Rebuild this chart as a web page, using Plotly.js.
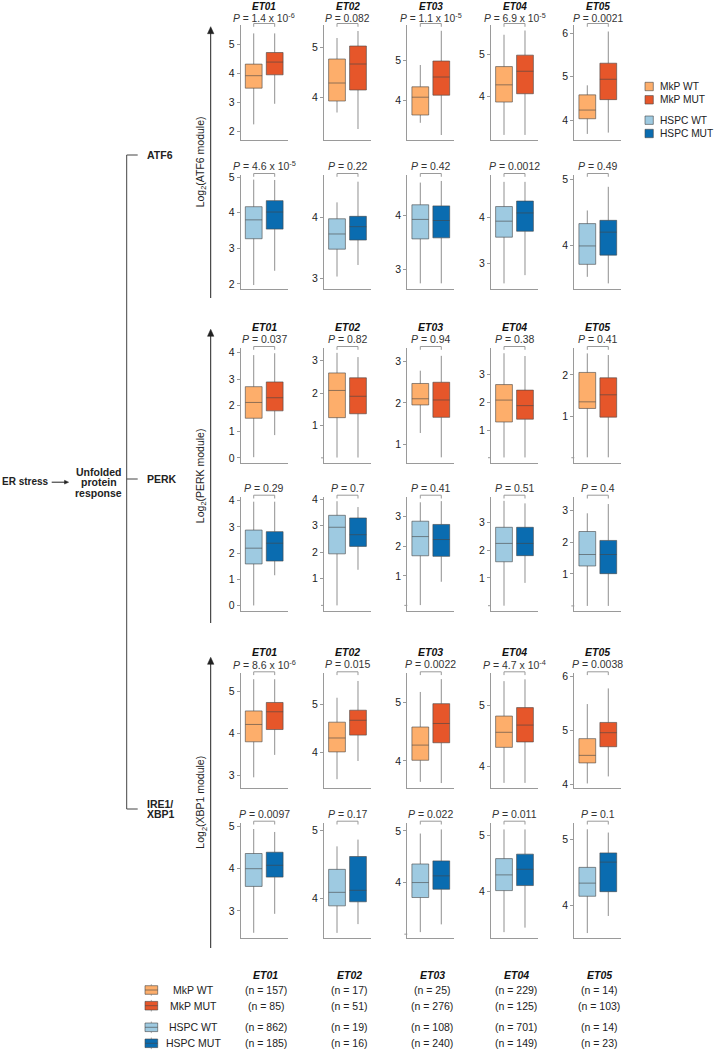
<!DOCTYPE html>
<html><head><meta charset="utf-8">
<script src="https://cdn.plot.ly/plotly-3.0.1.min.js"></script>
<style>html,body{margin:0;padding:0;background:#fff}#chart{width:714px;height:1050px}</style>
</head><body><div id="chart"></div>
<script>
// ---------------- DATA ----------------
const samples = ['ET01', 'ET02', 'ET03', 'ET04', 'ET05'];
const groupLabels = ['MkP WT', 'MkP MUT', 'HSPC WT', 'HSPC MUT'];
const modules = ['ATF6', 'PERK', 'XBP1'];

// box statistics per sample: [lower whisker, Q1, median, Q3, upper whisker]
const ATF6_MkP_WT = [[2.23,3.48,3.91,4.31,5.37],[3.70,3.93,4.29,4.77,5.19],[3.43,3.625,4.07,4.33,4.875],[3.10,3.875,4.28,4.71,5.46],[3.68,4.03,4.23,4.58,4.80]];
const ATF6_MkP_MUT = [[2.94,3.94,4.38,4.71,5.37],[3.37,4.15,4.67,5.03,5.33],[3.125,4.12,4.575,4.975,5.73],[3.10,4.07,4.60,4.98,5.56],[3.71,4.47,4.94,5.31,6.04]];
const ATF6_HSPC_WT = [[1.97,3.27,3.80,4.17,4.93],[3.03,3.48,3.73,3.98,4.25],[2.74,3.56,3.92,4.19,4.60],[2.56,3.57,3.92,4.24,4.78],[3.52,3.71,3.99,4.33,4.53]];
const ATF6_HSPC_MUT = [[2.37,3.54,4.02,4.34,4.92],[3.22,3.63,3.85,4.02,4.59],[2.74,3.58,3.90,4.17,4.63],[2.74,3.70,4.10,4.36,4.78],[3.42,3.85,4.20,4.38,4.89]];
const PERK_MkP_WT = [[0.03,1.51,2.11,2.71,3.91],[0.01,1.24,2.08,2.62,3.24],[1.27,1.95,2.10,2.47,2.78],[0.01,1.29,2.08,2.64,3.77],[0.01,1.19,1.35,2.06,2.52]];
const PERK_MkP_MUT = [[0.87,1.79,2.29,2.89,3.98],[0.01,1.36,1.90,2.47,3.11],[0.68,1.65,2.07,2.50,3.14],[0.01,1.39,1.88,2.44,3.67],[0.01,0.98,1.52,1.93,2.48]];
const PERK_HSPC_WT = [[0.01,1.59,2.19,2.88,3.96],[0.0,1.94,2.94,3.39,3.92],[0.01,1.68,2.33,2.85,3.49],[0.0,1.58,2.24,2.82,3.77],[0.0,1.25,1.61,2.33,2.90]];
const PERK_HSPC_MUT = [[1.16,1.70,2.38,2.82,3.96],[1.34,2.22,2.66,3.29,3.70],[0.80,1.66,2.23,2.74,3.53],[0.82,1.80,2.24,2.82,3.68],[0.0,1.01,1.61,2.05,3.19]];
const XBP1_MkP_WT = [[2.96,3.80,4.21,4.53,5.28],[3.44,4.01,4.30,4.63,5.14],[3.64,4.01,4.27,4.58,5.18],[3.72,4.31,4.56,4.83,5.41],[4.02,4.40,4.54,4.85,5.49]];
const XBP1_MkP_MUT = [[3.49,4.09,4.51,4.73,5.28],[3.82,4.36,4.67,4.88,5.49],[3.62,4.31,4.64,4.98,5.40],[3.72,4.40,4.68,4.97,5.44],[4.15,4.70,4.96,5.15,5.78]];
const XBP1_HSPC_WT = [[2.48,3.58,4.00,4.36,4.94],[3.49,3.89,4.09,4.43,4.77],[3.04,3.71,4.00,4.36,4.95],[3.27,4.01,4.29,4.58,5.10],[3.58,4.14,4.34,4.58,5.16]];
const XBP1_HSPC_MUT = [[2.93,3.80,4.08,4.39,4.87],[3.62,3.95,4.12,4.62,4.87],[3.19,3.87,4.13,4.42,5.03],[3.35,4.10,4.39,4.66,5.10],[3.84,4.21,4.66,4.80,5.11]];

// P values (Wilcoxon) per sample
const p_ATF6_MkP  = ['1.4 x 10<sup>-6</sup>', '0.082', '1.1 x 10<sup>-5</sup>', '6.9 x 10<sup>-5</sup>', '0.0021'];
const p_ATF6_HSPC = ['4.6 x 10<sup>-5</sup>', '0.22', '0.42', '0.0012', '0.49'];
const p_PERK_MkP  = ['0.037', '0.82', '0.94', '0.38', '0.41'];
const p_PERK_HSPC = ['0.29', '0.7', '0.41', '0.51', '0.4'];
const p_XBP1_MkP  = ['8.6 x 10<sup>-6</sup>', '0.015', '0.0022', '4.7 x 10<sup>-4</sup>', '0.0038'];
const p_XBP1_HSPC = ['0.0097', '0.17', '0.022', '0.011', '0.1'];

// cell counts
const n_MkP_WT   = [157, 17, 25, 229, 14];
const n_MkP_MUT  = [85, 51, 276, 125, 103];
const n_HSPC_WT  = [862, 19, 108, 701, 14];
const n_HSPC_MUT = [185, 16, 240, 149, 23];

// y tick labels per panel (labelled) and unlabelled tick marks
const ticks_ATF6_MkP  = [[2,3,4,5],[4,5],[4,5],[4,5],[4,5,6]];
const ticks_ATF6_HSPC = [[2,3,4,5],[3,4],[3,4],[3,4],[4,5]];
const ticks_PERK_MkP  = [[0,1,2,3,4],[1,2,3],[1,2,3],[1,2,3],[1,2]];
const ticks_PERK_HSPC = [[0,1,2,3,4],[1,2,3,4],[1,2,3],[1,2,3],[1,2,3]];
const ticks_XBP1_MkP  = [[3,4,5],[4,5],[4,5],[4,5],[4,5,6]];
const ticks_XBP1_HSPC = [[3,4,5],[4,5],[4,5],[4,5],[4,5]];
const blank_ATF6_MkP  = [[],[],[],[],[]];
const blank_ATF6_HSPC = [[],[],[],[],[]];
const blank_PERK_MkP  = [[],[0],[],[0],[0]];
const blank_PERK_HSPC = [[],[0],[0],[0],[0]];
const blank_XBP1_MkP  = [[],[],[],[],[]];
const blank_XBP1_HSPC = [[],[],[3],[],[]];

// y axis ranges per panel
const range_ATF6_MkP  = [[1.69,5.66],[3.15,5.45],[3.0,5.875],[2.98,5.69],[3.54,6.19]];
const range_ATF6_HSPC = [[1.85,5.06],[2.82,4.70],[2.63,4.74],[2.43,4.93],[3.33,5.07]];
const range_PERK_MkP  = [[-0.18,4.18],[-0.15,3.39],[0.55,3.33],[-0.18,3.96],[-0.12,2.65]];
const range_PERK_HSPC = [[-0.19,4.15],[-0.2,4.09],[-0.18,3.68],[-0.18,3.92],[-0.15,3.42]];
const range_XBP1_MkP  = [[2.70,5.42],[3.25,5.65],[3.53,5.50],[3.63,5.54],[3.93,6.06]];
const range_XBP1_HSPC = [[2.35,5.09],[3.41,5.12],[2.92,5.16],[3.16,5.22],[3.50,5.26]];

// ---------------- STYLE / LAYOUT ----------------
const W = 714, H = 1050;
const FONT = '"Liberation Sans", Arial, Helvetica, sans-serif';
const C_MKP_WT = '#FDAE6B', C_MKP_MUT = '#E6562A', C_HSPC_WT = '#9ECAE1', C_HSPC_MUT = '#0A6CB0';
const BOX_LINE = 'rgba(70,70,70,0.6)';
const AX = '#9a9a9a';
const TXT = '#222';
const px = x => x / W;
const py = y => 1 - y / H;

const colLeft = [240.7, 324, 407.3, 491, 574.3];
const panelW = 47;

const rows = [
  {s:[ATF6_MkP_WT, ATF6_MkP_MUT], col:[C_MKP_WT, C_MKP_MUT], p:p_ATF6_MkP, t:ticks_ATF6_MkP, b:blank_ATF6_MkP, r:range_ATF6_MkP, top:25, bot:140, head:true},
  {s:[ATF6_HSPC_WT, ATF6_HSPC_MUT], col:[C_HSPC_WT, C_HSPC_MUT], p:p_ATF6_HSPC, t:ticks_ATF6_HSPC, b:blank_ATF6_HSPC, r:range_ATF6_HSPC, top:175, bot:289.3, head:false},
  {s:[PERK_MkP_WT, PERK_MkP_MUT], col:[C_MKP_WT, C_MKP_MUT], p:p_PERK_MkP, t:ticks_PERK_MkP, b:blank_PERK_MkP, r:range_PERK_MkP, top:348, bot:462.7, head:true},
  {s:[PERK_HSPC_WT, PERK_HSPC_MUT], col:[C_HSPC_WT, C_HSPC_MUT], p:p_PERK_HSPC, t:ticks_PERK_HSPC, b:blank_PERK_HSPC, r:range_PERK_HSPC, top:496.7, bot:610.7, head:false},
  {s:[XBP1_MkP_WT, XBP1_MkP_MUT], col:[C_MKP_WT, C_MKP_MUT], p:p_XBP1_MkP, t:ticks_XBP1_MkP, b:blank_XBP1_MkP, r:range_XBP1_MkP, top:673.3, bot:788.3, head:true},
  {s:[XBP1_HSPC_WT, XBP1_HSPC_MUT], col:[C_HSPC_WT, C_HSPC_MUT], p:p_XBP1_HSPC, t:ticks_XBP1_HSPC, b:blank_XBP1_HSPC, r:range_XBP1_HSPC, top:822.7, bot:938.3, head:false}
];

const data = [];
const shapes = [];
const annotations = [];
const layout = {
  width: W, height: H,
  margin: {l:0, r:0, t:0, b:0},
  paper_bgcolor: '#fff', plot_bgcolor: 'rgba(0,0,0,0)',
  showlegend: false, boxmode: 'overlay',
  font: {family: FONT, size: 10.5, color: TXT},
  hovermode: false
};

function txt(x, y, text, o) {
  o = o || {};
  annotations.push(Object.assign({
    xref:'paper', yref:'paper', x:px(x), y:py(y), text:text, showarrow:false,
    xanchor:'center', yanchor:'middle', borderpad:0,
    font:{family:FONT, size:10.5, color:TXT}
  }, o));
}
function line(x0, y0, x1, y1, color, w) {
  shapes.push({type:'line', xref:'paper', yref:'paper', x0:px(x0), y0:py(y0), x1:px(x1), y1:py(y1),
    line:{color:color || '#333', width:w || 1}});
}
function tri(pts, color) {
  const d = 'M' + pts.map(p => px(p[0]) + ',' + py(p[1])).join(' L') + ' Z';
  shapes.push({type:'path', xref:'paper', yref:'paper', path:d, fillcolor:color, line:{color:color, width:0.5}});
}
function rect(x0, y0, x1, y1, fill, lc) {
  shapes.push({type:'rect', xref:'paper', yref:'paper', x0:px(x0), y0:py(y0), x1:px(x1), y1:py(y1),
    fillcolor:fill, line:{color:lc || BOX_LINE, width:1}});
}

let k = 0;
rows.forEach((row, ri) => {
  for (let c = 0; c < 5; c++) {
    k++;
    const xa = k === 1 ? 'xaxis' : 'xaxis' + k;
    const ya = k === 1 ? 'yaxis' : 'yaxis' + k;
    const xr = k === 1 ? 'x' : 'x' + k;
    const yr = k === 1 ? 'y' : 'y' + k;
    layout[xa] = {
      type:'linear', domain:[px(colLeft[c]), px(colLeft[c] + panelW)], range:[-0.62, 1.62], anchor:yr,
      showline:true, linecolor:AX, linewidth:1, showgrid:false, zeroline:false,
      showticklabels:false, ticks:'', fixedrange:true
    };
    layout[ya] = {
      type:'linear', domain:[py(row.bot), py(row.top)], range:row.r[c], anchor:xr,
      showline:true, linecolor:AX, linewidth:1, showgrid:false, zeroline:false,
      tickmode:'array', tickvals:row.t[c], ticktext:row.t[c].map(String), ticks:'outside', ticklen:3, tickcolor:AX, tickwidth:1,
      tickfont:{family:FONT, size:10.5, color:TXT}, fixedrange:true
    };
    // unlabelled tick marks
    row.b[c].forEach(v => {
      shapes.push({type:'line', xref:'paper', yref:yr, x0:px(colLeft[c] - 3), x1:px(colLeft[c]), y0:v, y1:v,
        line:{color:AX, width:1}});
    });
    [0, 1].forEach(g => {
      const s = row.s[g][c];
      data.push({
        type:'box', x:[g], lowerfence:[s[0]], q1:[s[1]], median:[s[2]], q3:[s[3]], upperfence:[s[4]],
        xaxis:xr, yaxis:yr, fillcolor:row.col[g], line:{color:BOX_LINE, width:1},
        whiskerwidth:0, width:0.8, boxpoints:false, hoverinfo:'skip', showlegend:false
      });
    });
    // significance bracket
    shapes.push({
      type:'path', xref:xr, yref:'paper',
      path:'M0,' + py(row.top + 1.8) + ' L0,' + py(row.top - 1.5) + ' L1,' + py(row.top - 1.5) + ' L1,' + py(row.top + 1.8),
      line:{color:AX, width:1}
    });
    const cx = colLeft[c] + panelW / 2;
    const pText = '<i>P</i> = ' + row.p[c];
    if (ri === 0) {
      txt(cx, row.top + 0.3, pText, {yanchor:'bottom', font:{family:FONT, size:10.3, color:'#333'}});
      txt(cx, 0.2, '<b><i>' + samples[c] + '</i></b>', {yanchor:'top', font:{family:FONT, size:10, color:'#111'}});
    } else {
      txt(cx, row.top - 9, pText, {font:{family:FONT, size:10.5, color:'#333'}});
      if (row.head) {
        txt(cx, row.top - 21.5, '<b><i>' + samples[c] + '</i></b>', {font:{family:FONT, size:10.5, color:'#111'}});
      }
    }
  }
});

// y-axis titles with arrows
const arrowSpans = [[26.7, 298], [329.3, 623], [657.3, 948]];
arrowSpans.forEach((sp, i) => {
  const x = 210.7;
  line(x, sp[0] + 5, x, sp[1], '#222', 1);
  tri([[x, sp[0]], [x - 3.2, sp[0] + 7], [x + 3.2, sp[0] + 7]], '#222');
  const cy = (sp[0] + sp[1]) / 2;
  txt(201, cy, 'Log<sub>2</sub>(' + modules[i] + ' module)', {textangle:-90, font:{family:FONT, size:10.5, color:TXT}});
});

// left pathway diagram
txt(49.5, 481.7, '<b>ER stress</b>', {xanchor:'right', font:{family:FONT, size:10, color:TXT}});
line(51.7, 482.2, 65.5, 482.2, '#222', 1);
tri([[68.6, 482.2], [64.5, 480.3], [64.5, 484.1]], '#222');
txt(98.5, 471.7, '<b>Unfolded</b>');
txt(98.5, 482.5, '<b>protein</b>');
txt(98.5, 493.3, '<b>response</b>');
line(126.7, 155, 126.7, 809, '#444', 1);
line(126.7, 155, 137.7, 155, '#444', 1);
line(126.7, 479, 137.7, 479, '#444', 1);
line(126.7, 809, 137.7, 809, '#444', 1);
txt(146, 155, '<b>ATF6</b>', {xanchor:'left'});
txt(146, 479, '<b>PERK</b>', {xanchor:'left'});
txt(146, 803.5, '<b>IRE1/</b>', {xanchor:'left'});
txt(146, 814, '<b>XBP1</b>', {xanchor:'left'});

// right legend
const legCols = [C_MKP_WT, C_MKP_MUT, C_HSPC_WT, C_HSPC_MUT];
const legY = [86.5, 99.8, 120.2, 133.5];
legCols.forEach((col, i) => {
  rect(645, legY[i] - 4.2, 653.3, legY[i] + 4.2, col);
  txt(658.5, legY[i], groupLabels[i], {xanchor:'left', font:{family:FONT, size:10.2, color:TXT}});
});

// bottom table
const tableY = [990, 1005.7, 1027.3, 1043.3];
const nRows = [n_MkP_WT, n_MkP_MUT, n_HSPC_WT, n_HSPC_MUT];
samples.forEach((s, c) => {
  const cx = colLeft[c] + panelW / 2 + 1.5;
  txt(cx, 975, '<b><i>' + s + '</i></b>', {font:{family:FONT, size:10.5, color:'#111'}});
  nRows.forEach((nr, i) => txt(cx, tableY[i], '(n = ' + nr[c] + ')'));
});
legCols.forEach((col, i) => {
  const cy = tableY[i];
  line(151.3, cy - 5.8, 151.3, cy - 4.3, '#aaa', 1);
  line(151.3, cy + 4.3, 151.3, cy + 5.8, '#aaa', 1);
  rect(145, cy - 4.3, 157.7, cy + 4.3, col);
  line(145, cy, 157.7, cy, BOX_LINE, 1);
  txt(193.5, cy, groupLabels[i]);
});

layout.shapes = shapes;
layout.annotations = annotations;
Plotly.newPlot('chart', data, layout, {staticPlot:true, displayModeBar:false});
</script>
</body></html>
